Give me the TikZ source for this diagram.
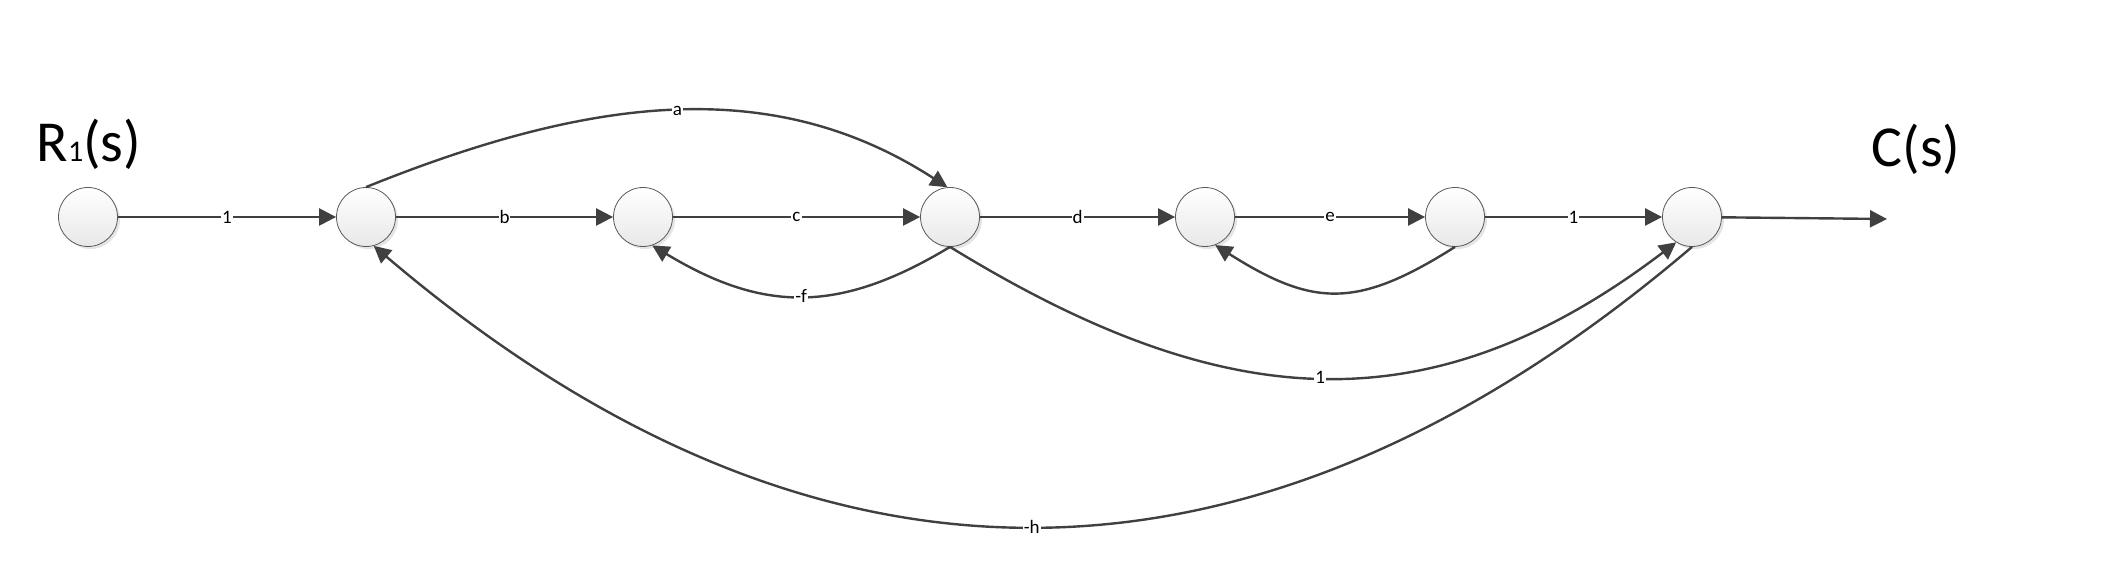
\documentclass[tikz,border=0pt]{standalone}
\usepackage{fontspec}
\setmainfont{Carlito}
\usetikzlibrary{arrows.meta,shadows}
\definecolor{edgegray}{HTML}{404040}
\begin{document}
\begin{tikzpicture}[x=1pt,y=-1pt,
  state/.style={circle, minimum size=59pt, inner sep=0pt, draw=black!65, line width=0.8pt,
    top color=white, bottom color=black!9,
    general shadow={fill=black!10, shadow xshift=2.5pt, shadow yshift=-2.5pt}},
  edge/.style={draw=edgegray, line width=2.4pt, -{Triangle[length=17pt,width=17pt]}, fill=none},
  lbl/.style={fill=white, inner sep=1pt, text=black, font=\fontsize{19}{19}\selectfont},
  big/.style={anchor=base, font=\fontsize{58}{58}\selectfont}]
\useasboundingbox (0,0) rectangle (2101,569);
\node[state] (n1) at (88,217) {};
\node[state] (n2) at (366,217) {};
\node[state] (n3) at (643,217) {};
\node[state] (n4) at (950,217) {};
\node[state] (n5) at (1205,217) {};
\node[state] (n6) at (1455,217) {};
\node[state] (n7) at (1692,217) {};
\node[big] (rs) at (89,162) {R{\fontsize{30}{30}\selectfont 1}(s)};
\node[big] (cs) at (1916,167) {C(s)};
\coordinate (out) at (1887,219);
\draw[edge] (n1) -- node[lbl]{1} (n2);
\draw[edge] (n2) -- node[lbl]{b} (n3);
\draw[edge] (n3) -- node[lbl]{c} (n4);
\draw[edge] (n4) -- node[lbl]{d} (n5);
\draw[edge] (n5) -- node[lbl]{e} (n6);
\draw[edge] (n6) -- node[lbl]{1} (n7);
\draw[edge] (n7) -- (out);
\draw[edge] (n2.north) .. controls +(228,-92) and +(-173,-112) .. node[lbl]{a} (n4.95);
\draw[edge] (n4.south) .. controls +(-111,67) and +(111,67) .. node[lbl]{-f} (n3.-72);
\draw[edge] (n6.south) .. controls +(-98,62) and +(98,62) .. (n5.-70);
\draw[edge] (n4.south) .. controls +(269,165) and +(-250,190) .. node[lbl]{1} (n7.238);
\draw[edge] (n7.south) .. controls +(-440,375) and +(437,372) .. node[lbl]{-h} (n2.-75);
\end{tikzpicture}
\end{document}
